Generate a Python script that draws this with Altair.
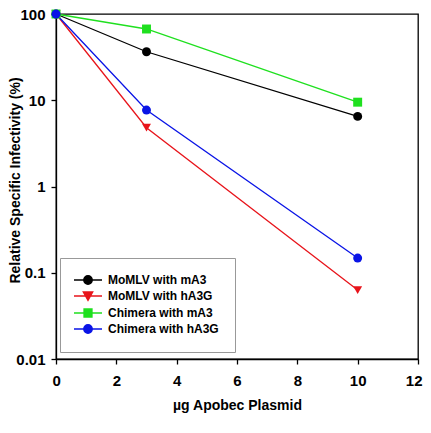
import altair as alt
import pandas as pd

series_names = ["MoMLV with mA3", "MoMLV with hA3G", "Chimera with mA3", "Chimera with hA3G"]
series_colors = ["#000000", "#e8141b", "#1fe01f", "#0a14e6"]
dose = [0, 3, 10]
momlv_ma3 = [100, 36.5, 6.5]
momlv_ha3g = [100, 4.8, 0.063]
chimera_ma3 = [100, 67, 9.5]
chimera_ha3g = [100, 7.7, 0.148]

plot_shapes = ["circle", "triangle-down", "square", "circle"]
legend_shapes = [
    "M-2.8,0L2.8,0M0.85,0A0.85,0.85,0,1,1,-0.85,0A0.85,0.85,0,1,1,0.85,0Z",
    "M-2.8,0L2.8,0M-0.95,-0.8L0.95,-0.8L0,0.9Z",
    "M-2.8,0L2.8,0M-0.8,-0.8L0.8,-0.8L0.8,0.8L-0.8,0.8Z",
    "M-2.8,0L2.8,0M0.85,0A0.85,0.85,0,1,1,-0.85,0A0.85,0.85,0,1,1,0.85,0Z",
]

rows = []
for name, vals in zip(series_names, [momlv_ma3, momlv_ha3g, chimera_ma3, chimera_ha3g]):
    for d, v in zip(dose, vals):
        rows.append({"dose": d, "value": v, "series": name})
df = pd.DataFrame(rows)

FONT = "Liberation Sans"

x = alt.X("dose:Q", scale=alt.Scale(domain=[0, 12], nice=False),
          axis=alt.Axis(values=[0, 2, 4, 6, 8, 10, 12], title="µg Apobec Plasmid",
                        grid=False, titlePadding=10, labelFlush=True, labelFlushOffset=4))
y = alt.Y("value:Q", scale=alt.Scale(type="log", domain=[0.01, 100], nice=False),
          axis=alt.Axis(values=[0.01, 0.1, 1, 10, 100], grid=False,
                        title="Relative Specific Infectivity (%)",
                        labelExpr="datum.value < 1 ? format(datum.value, '.2~f') : format(datum.value, 'd')",
                        labelFlush=False, titleX=-34, titleY=166))

cscale = alt.Scale(domain=series_names, range=series_colors)

lines = alt.Chart(df).mark_line(strokeWidth=1.3).encode(
    x=x, y=y,
    color=alt.Color("series:N", scale=cscale, legend=None),
    detail="series:N",
)

points = alt.Chart(df).mark_point(filled=True, opacity=1, size=80).encode(
    x=x, y=y,
    color=alt.Color("series:N", scale=cscale, legend=None),
    shape=alt.Shape("series:N", scale=alt.Scale(domain=series_names, range=plot_shapes), legend=None),
)

legend_layer = alt.Chart(df).transform_filter("false").mark_point(filled=True, opacity=1, strokeWidth=1.3).encode(
    x=x, y=y,
    fill=alt.Fill("series:N", scale=alt.Scale(domain=series_names, range=series_colors),
                  legend=alt.Legend(title=None, orient="none", legendX=4, legendY=244,
                                    strokeColor="#999999", padding=16,
                                    labelFont=FONT, labelFontSize=12, labelFontWeight="bold",
                                    labelColor="#000000",
                                    symbolSize=100, symbolOffset=6, labelOffset=14, rowPadding=2,
                                    symbolStrokeWidth=1.3)),
    stroke=alt.Stroke("series:N", scale=alt.Scale(domain=series_names, range=series_colors)),
    shape=alt.Shape("series:N", scale=alt.Scale(domain=series_names, range=legend_shapes)),
)

chart = alt.layer(lines, points, legend_layer).resolve_scale(
    color="independent", shape="independent", fill="independent", stroke="independent"
).properties(
    width=362, height=345,
    autosize=alt.AutoSizeParams(type="none"),
    padding={"left": 48, "top": 6, "right": 5, "bottom": 66},
).configure_view(
    stroke="#000000", strokeWidth=1.3
).configure_axis(
    domainColor="#000000", domainWidth=1.3, tickColor="#000000", tickWidth=1.3, tickSize=5,
    labelFont=FONT, labelFontSize=15, labelFontWeight="bold", labelColor="#000000",
    titleFont=FONT, titleFontSize=14, titleFontWeight="bold", titleColor="#000000",
    labelPadding=6,
).configure_axisX(labelPadding=9)

chart.save("out.html", embed_options={"renderer": "svg", "actions": False})
